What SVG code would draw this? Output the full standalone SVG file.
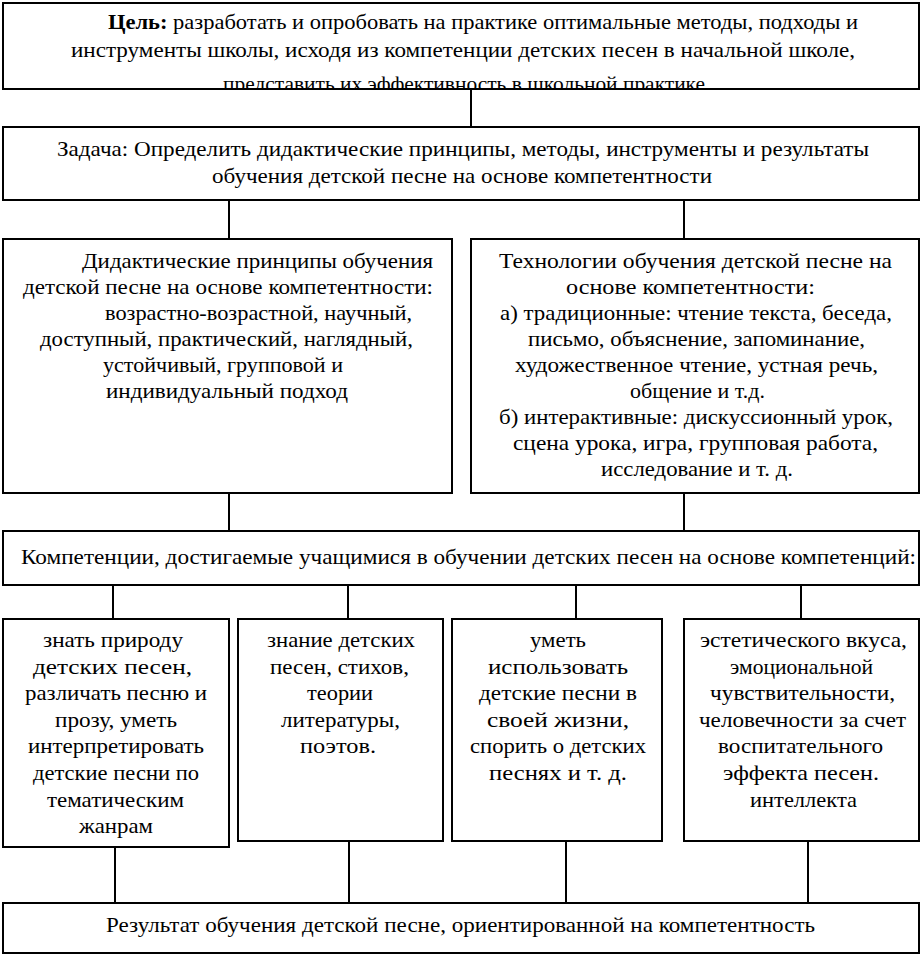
<svg xmlns="http://www.w3.org/2000/svg" width="922" height="956" viewBox="0 0 922 956">
<style>
.box{fill:#fff;stroke:#000;stroke-width:2}
.con line{stroke:#000;stroke-width:2}
text{font-family:"Liberation Serif","Times New Roman",serif;font-size:21px;fill:#000}
.big{font-size:22px}
</style>
<defs>
<clipPath id="clipTop"><rect x="4" y="4" width="914" height="84"/></clipPath>
</defs>
<rect width="922" height="956" fill="#fff"/>
<g id="connectors" class="con">
<line x1="471" y1="89" x2="471" y2="127"/>
<line x1="229" y1="200" x2="229" y2="239"/>
<line x1="684" y1="200" x2="684" y2="239"/>
<line x1="229" y1="493" x2="229" y2="531"/>
<line x1="684" y1="493" x2="684" y2="531"/>
<line x1="113" y1="585" x2="113" y2="619"/>
<line x1="348" y1="585" x2="348" y2="619"/>
<line x1="576" y1="585" x2="576" y2="619"/>
<line x1="801" y1="585" x2="801" y2="619"/>
<line x1="115" y1="847" x2="115" y2="903"/>
<line x1="349" y1="841" x2="349" y2="903"/>
<line x1="566" y1="841" x2="566" y2="903"/>
<line x1="808" y1="841" x2="808" y2="903"/>
</g>
<g id="goal">
<rect class="box" x="3" y="3" width="916" height="86"/>
<g clip-path="url(#clipTop)">
<text class="big" x="108" y="29" textLength="750" lengthAdjust="spacingAndGlyphs"><tspan font-weight="bold">Цель:</tspan> разработать и опробовать на практике оптимальные методы, подходы и</text>
<text class="big" x="71" y="57" textLength="784" lengthAdjust="spacingAndGlyphs">инструменты школы, исходя из компетенции детских песен в начальной школе,</text>
<text class="big" x="223" y="91" textLength="482" lengthAdjust="spacingAndGlyphs">представить их эффективность в школьной практике</text>
</g>
</g>
<g id="task">
<rect class="box" x="3" y="127" width="916" height="73"/>
<text class="big" x="57" y="156" textLength="812" lengthAdjust="spacingAndGlyphs">Задача: Определить дидактические принципы, методы, инструменты и результаты</text>
<text class="big" x="212" y="183" textLength="500" lengthAdjust="spacingAndGlyphs">обучения детской песне на основе компетентности</text>
</g>
<g id="principles">
<rect class="box" x="3" y="239" width="449" height="254"/>
<text x="82" y="268" textLength="351" lengthAdjust="spacingAndGlyphs">Дидактические принципы обучения</text>
<text x="23" y="294" textLength="410" lengthAdjust="spacingAndGlyphs">детской песне на основе компетентности:</text>
<text x="105" y="320" textLength="307" lengthAdjust="spacingAndGlyphs">возрастно-возрастной, научный,</text>
<text x="40" y="346" textLength="373" lengthAdjust="spacingAndGlyphs">доступный, практический, наглядный,</text>
<text x="103" y="372" textLength="240" lengthAdjust="spacingAndGlyphs">устойчивый, групповой и</text>
<text x="106" y="398" textLength="242" lengthAdjust="spacingAndGlyphs">индивидуальный подход</text>
</g>
<g id="technologies">
<rect class="box" x="471" y="239" width="448" height="254"/>
<text x="499" y="268" textLength="393" lengthAdjust="spacingAndGlyphs">Технологии  обучения детской песне на</text>
<text x="566" y="294" textLength="249" lengthAdjust="spacingAndGlyphs">основе компетентности:</text>
<text x="500" y="320" textLength="392" lengthAdjust="spacingAndGlyphs">а) традиционные: чтение текста, беседа,</text>
<text x="528" y="346" textLength="337" lengthAdjust="spacingAndGlyphs">письмо, объяснение, запоминание,</text>
<text x="515" y="372" textLength="363" lengthAdjust="spacingAndGlyphs">художественное чтение, устная речь,</text>
<text x="630" y="398" textLength="135" lengthAdjust="spacingAndGlyphs">общение и т.д.</text>
<text x="499" y="424" textLength="394" lengthAdjust="spacingAndGlyphs">б) интерактивные: дискуссионный урок,</text>
<text x="513" y="450" textLength="365" lengthAdjust="spacingAndGlyphs">сцена урока, игра, групповая работа,</text>
<text x="601" y="476" textLength="192" lengthAdjust="spacingAndGlyphs">исследование и т. д.</text>
</g>
<g id="competencies">
<rect class="box" x="3" y="531" width="916" height="54"/>
<text class="big" x="21" y="564" textLength="895" lengthAdjust="spacingAndGlyphs">Компетенции, достигаемые учащимися в обучении детских песен на основе компетенций:</text>
</g>
<g id="c1">
<rect class="box" x="3" y="619" width="226" height="228"/>
<text x="43" y="647" textLength="140" lengthAdjust="spacingAndGlyphs">знать природу</text>
<text x="33" y="673.6" textLength="159" lengthAdjust="spacingAndGlyphs">детских песен,</text>
<text x="25" y="700.2" textLength="182" lengthAdjust="spacingAndGlyphs">различать песню и</text>
<text x="55" y="726.8" textLength="122" lengthAdjust="spacingAndGlyphs">прозу, уметь</text>
<text x="28" y="753.4" textLength="176" lengthAdjust="spacingAndGlyphs">интерпретировать</text>
<text x="33" y="780" textLength="166" lengthAdjust="spacingAndGlyphs">детские песни по</text>
<text x="47" y="806.6" textLength="137" lengthAdjust="spacingAndGlyphs">тематическим</text>
<text x="79" y="833.2" textLength="74" lengthAdjust="spacingAndGlyphs">жанрам</text>
</g>
<g id="c2">
<rect class="box" x="238" y="619" width="205" height="222"/>
<text x="267" y="647" textLength="148" lengthAdjust="spacingAndGlyphs">знание детских</text>
<text x="270" y="673.6" textLength="139" lengthAdjust="spacingAndGlyphs">песен, стихов,</text>
<text x="307" y="700.2" textLength="66" lengthAdjust="spacingAndGlyphs">теории</text>
<text x="281" y="726.8" textLength="119" lengthAdjust="spacingAndGlyphs">литературы,</text>
<text x="300" y="753.4" textLength="76" lengthAdjust="spacingAndGlyphs">поэтов.</text>
</g>
<g id="c3">
<rect class="box" x="452" y="619" width="210" height="222"/>
<text x="530" y="647" textLength="56" lengthAdjust="spacingAndGlyphs">уметь</text>
<text x="488" y="673.6" textLength="140" lengthAdjust="spacingAndGlyphs">использовать</text>
<text x="479" y="700.2" textLength="158" lengthAdjust="spacingAndGlyphs">детские песни в</text>
<text x="487" y="726.8" textLength="142" lengthAdjust="spacingAndGlyphs">своей жизни,</text>
<text x="470" y="753.4" textLength="176" lengthAdjust="spacingAndGlyphs">спорить о детских</text>
<text x="489" y="780" textLength="138" lengthAdjust="spacingAndGlyphs">песнях и т. д.</text>
</g>
<g id="c4">
<rect class="box" x="684" y="619" width="235" height="222"/>
<text x="700" y="647" textLength="207" lengthAdjust="spacingAndGlyphs">эстетического вкуса,</text>
<text x="730" y="673.6" textLength="143" lengthAdjust="spacingAndGlyphs">эмоциональной</text>
<text x="710" y="700.2" textLength="185" lengthAdjust="spacingAndGlyphs">чувствительности,</text>
<text x="699" y="726.8" textLength="207" lengthAdjust="spacingAndGlyphs">человечности за счет</text>
<text x="718" y="753.4" textLength="165" lengthAdjust="spacingAndGlyphs">воспитательного</text>
<text x="723" y="780" textLength="156" lengthAdjust="spacingAndGlyphs">эффекта песен.</text>
<text x="750" y="806.6" textLength="107" lengthAdjust="spacingAndGlyphs">интеллекта</text>
</g>
<g id="result">
<rect class="box" x="3" y="903" width="916" height="50"/>
<text class="big" x="106" y="932" textLength="709" lengthAdjust="spacingAndGlyphs">Результат обучения детской песне, ориентированной на компетентность</text>
</g>
</svg>
